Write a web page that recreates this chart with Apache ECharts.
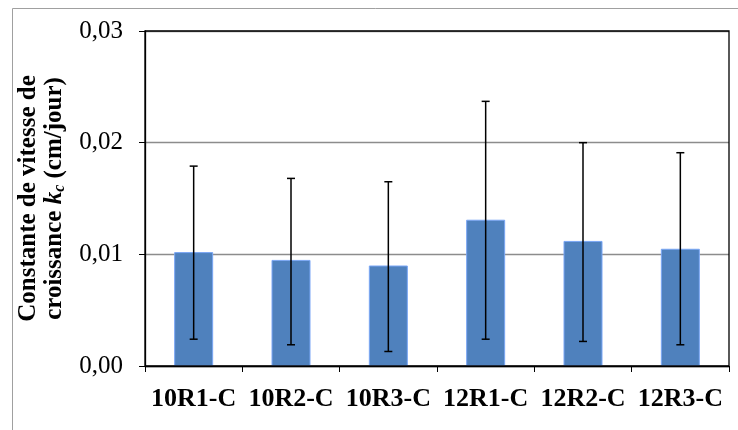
<!DOCTYPE html>
<html>
<head>
<meta charset="utf-8">
<script src="https://cdn.jsdelivr.net/npm/echarts@6/dist/echarts.min.js"></script>
<style>html,body{margin:0;padding:0;background:#fff;}#c{width:738px;height:430px;}</style>
</head>
<body>
<div id="c"></div>
<script>
const categories = ['10R1-C', '10R2-C', '10R3-C', '12R1-C', '12R2-C', '12R3-C'];
const values = [0.0102, 0.0095, 0.0090, 0.0131, 0.0112, 0.0105];
const errLow = [0.0024, 0.0019, 0.0013, 0.0024, 0.0022, 0.0019];
const errHigh = [0.0179, 0.0168, 0.0165, 0.0237, 0.0200, 0.0191];
const yTicks = [0, 0.01, 0.02, 0.03];

const FONT = '"Liberation Serif", "Times New Roman", serif';
const errData = categories.map((c, i) => [i, errLow[i], errHigh[i]]);

const chart = echarts.init(document.getElementById('c'), null, {renderer: 'canvas'});
chart.setOption({
  animation: false,
  backgroundColor: '#fff',
  graphic: [
    {type: 'rect', shape: {x: 12.5, y: 8.5, width: 800, height: 500}, style: {fill: 'none', stroke: '#a0a0a0', lineWidth: 1}, z: -10},
    {type: 'rect', shape: {x: 145, y: 31, width: 584, height: 335}, style: {fill: 'none', stroke: '#000', lineWidth: 1.3}, z: 10}
  ],
  grid: {left: 145, right: 9, top: 31, bottom: 64, containLabel: false, outerBoundsMode: 'none'},
  xAxis: {
    type: 'category',
    data: categories,
    axisLine: {lineStyle: {color: '#000', width: 1.3}},
    axisTick: {show: true, length: 6, lineStyle: {color: '#000'}},
    axisLabel: {color: '#000', fontFamily: FONT, fontWeight: 'bold', fontSize: 26, margin: 20, interval: 0}
  },
  yAxis: {
    type: 'value',
    min: yTicks[0],
    max: yTicks[yTicks.length - 1],
    interval: 0.01,
    axisLine: {show: true, lineStyle: {color: '#000', width: 1.3}},
    axisTick: {show: true, length: 6, lineStyle: {color: '#000'}},
    splitLine: {show: true, lineStyle: {color: '#8c8c8c', width: 1.3}},
    axisLabel: {color: '#000', fontFamily: FONT, fontSize: 25, margin: 22,
      formatter: v => v.toFixed(2).replace('.', ',')},
    name: '{b|Constante de vitesse de}\n{b|croissance }{k|k}{s|c}{b| (cm/jour)}',
    nameLocation: 'middle',
    nameRotate: 90,
    nameGap: 75,
    nameTextStyle: {
      color: '#000',
      rich: {
        b: {fontFamily: FONT, fontWeight: 'bold', fontSize: 25, lineHeight: 26, color: '#000'},
        k: {fontFamily: FONT, fontWeight: 'bold', fontStyle: 'italic', fontSize: 25, lineHeight: 26, color: '#000'},
        s: {fontFamily: FONT, fontWeight: 'bold', fontStyle: 'italic', fontSize: 16, lineHeight: 26, color: '#000', padding: [12, 0, 0, 0]}
      }
    }
  },
  series: [
    {
      type: 'bar',
      data: values,
      barWidth: 39,
      itemStyle: {color: '#4f81bd', borderColor: '#7aa6f5', borderWidth: 1}
    },
    {
      type: 'custom',
      data: errData,
      z: 5,
      renderItem: function (params, api) {
        const x = api.coord([api.value(0), api.value(1)])[0];
        const yLo = api.coord([api.value(0), api.value(1)])[1];
        const yHi = api.coord([api.value(0), api.value(2)])[1];
        const hw = 4;
        const st = {stroke: '#000', lineWidth: 1.5};
        return {
          type: 'group',
          children: [
            {type: 'line', shape: {x1: x, y1: yLo, x2: x, y2: yHi}, style: st},
            {type: 'line', shape: {x1: x - hw, y1: yLo, x2: x + hw, y2: yLo}, style: st},
            {type: 'line', shape: {x1: x - hw, y1: yHi, x2: x + hw, y2: yHi}, style: st}
          ]
        };
      }
    }
  ]
});
</script>
</body>
</html>
